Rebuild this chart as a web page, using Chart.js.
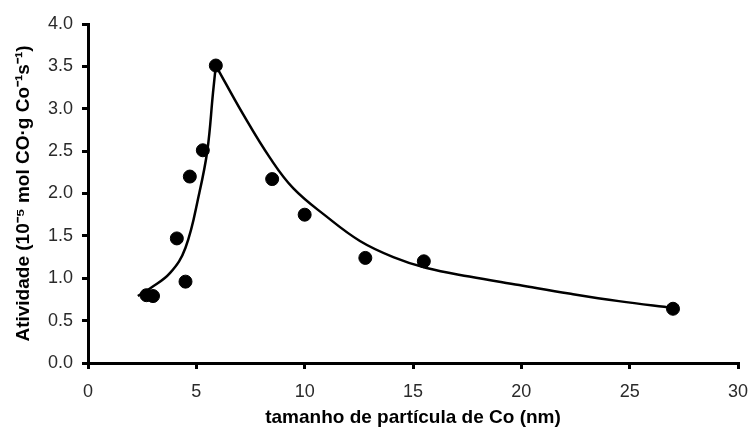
<!DOCTYPE html>
<html lang="pt">
<head>
<meta charset="UTF-8">
<title>Atividade vs tamanho de partícula</title>
<script src="https://cdn.jsdelivr.net/npm/chart.js"></script>
<style>
  html, body { margin: 0; padding: 0; background: #fff; }
  #wrap { width: 750px; height: 429px; }
</style>
</head>
<body>
<div id="wrap"><canvas id="chart" width="750" height="429"></canvas></div>
<script>
// pontos medidos
const sizeNm = [2.7, 3.0, 4.1, 4.5, 4.7, 5.3, 5.9, 8.5, 10.0, 12.8, 15.5, 27.0];
const activity = [0.80, 0.79, 1.47, 0.96, 2.20, 2.51, 3.51, 2.17, 1.75, 1.24, 1.20, 0.64];

// curva ajustada (ramo crescente e decrescente)
const riseX = [2.3, 2.86, 3.78, 4.5, 5.14, 5.51, 5.77, 5.9];
const riseY = [0.79, 0.88, 1.06, 1.36, 2.01, 2.51, 3.19, 3.51];
const fallX = [5.9, 7.17, 8.4, 9.48, 11.0, 12.55, 14.09, 15.63, 17.6, 19.9, 22.2, 24.5, 27];
const fallY = [3.51, 2.93, 2.42, 2.06, 1.73, 1.44, 1.25, 1.12, 1.02, 0.92, 0.82, 0.73, 0.65];

const xTicks = [0, 5, 10, 15, 20, 25, 30];
const yTicks = [0, 0.5, 1, 1.5, 2, 2.5, 3, 3.5, 4];

const pts = (xs, ys) => xs.map((x, i) => ({ x: x, y: ys[i] }));

const tickFont = { family: 'Liberation Sans, Arial, sans-serif', size: 18 };
const titleFont = { family: 'Liberation Sans, Arial, sans-serif', size: 19, weight: 'bold' };

new Chart(document.getElementById('chart'), {
  type: 'scatter',
  data: {
    datasets: [
      {
        data: pts(riseX, riseY),
        showLine: true,
        borderColor: '#000',
        borderWidth: 2.5,
        pointRadius: 0,
        tension: 0.4
      },
      {
        data: pts(fallX, fallY),
        showLine: true,
        borderColor: '#000',
        borderWidth: 2.5,
        pointRadius: 0,
        tension: 0.4
      },
      {
        data: pts(sizeNm, activity),
        backgroundColor: '#000',
        borderColor: '#000',
        pointRadius: 6.5,
        showLine: false
      }
    ]
  },
  options: {
    responsive: false,
    animation: false,
    layout: { padding: { left: 0, top: 24, right: 12, bottom: 0 } },
    plugins: { legend: { display: false }, tooltip: { enabled: false } },
    scales: {
      x: {
        type: 'linear',
        min: 0, max: 30,
        afterBuildTicks: s => { s.ticks = xTicks.map(v => ({ value: v })); },
        afterFit: s => { s.height = 66; s.paddingLeft = 0; s.paddingRight = 0; },
        grid: { drawOnChartArea: false, drawTicks: true, tickLength: 6, color: '#000', lineWidth: 3 },
        border: { color: '#000', width: 3 },
        ticks: { color: '#2a2a2a', font: tickFont, padding: 12, maxRotation: 0 },
        title: { display: true, text: 'tamanho de partícula de Co (nm)', color: '#000', font: titleFont, padding: { top: 0, bottom: 0 } }
      },
      y: {
        type: 'linear',
        min: 0, max: 4,
        afterBuildTicks: s => { s.ticks = yTicks.map(v => ({ value: v })); },
        afterFit: s => { s.width = 88; s.paddingTop = 0; s.paddingBottom = 0; },
        grid: { drawOnChartArea: false, drawTicks: true, tickLength: 6, color: '#000', lineWidth: 3 },
        border: { color: '#000', width: 3 },
        ticks: { color: '#2a2a2a', font: tickFont, padding: 9, callback: v => v.toFixed(1) },
        title: { display: true, text: 'Atividade (10⁻⁵ mol CO·g Co⁻¹s⁻¹)', color: '#000', font: titleFont, padding: { top: 12, bottom: 0 } }
      }
    }
  }
});
</script>
</body>
</html>
